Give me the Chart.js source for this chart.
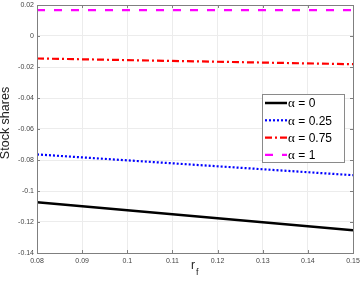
<!DOCTYPE html>
<html>
<head>
<meta charset="utf-8">
<script src="https://cdn.jsdelivr.net/npm/chart.js@4.4.1/dist/chart.umd.min.js"></script>
<style>
  html, body { margin: 0; padding: 0; background: #fff; }
  #wrap { width: 360px; height: 287px; position: relative; }
</style>
</head>
<body>
<div id="wrap"><canvas id="c" width="360" height="287"></canvas></div>
<script>
// --- DATA ---
const rf = [0.08, 0.15];
const alpha0 = [-0.1072, -0.1253];
const alpha025 = [-0.0764, -0.0898];
const alpha075 = [-0.0145, -0.0182];
const alpha1 = [0.0167, 0.0167];
const legendLabels = ['0', '0.25', '0.75', '1'];
const xTicks = [0.08, 0.09, 0.1, 0.11, 0.12, 0.13, 0.14, 0.15];
const yTicks = [-0.14, -0.12, -0.1, -0.08, -0.06, -0.04, -0.02, 0, 0.02];

const pts = vals => vals.map((v, i) => ({ x: rf[i], y: v }));
const fmt = v => String(Number(v.toFixed(2)));
const tickFont = { family: 'Liberation Sans', size: 7 };

// axes box, inward ticks, legend and axis titles
const decor = {
    id: 'decor',
    afterDraw(chart) {
        const c = chart.ctx;
        const a = chart.chartArea;
        const xs = chart.scales.x, ys = chart.scales.y;
        c.save();
        c.strokeStyle = '#7f7f7f';
        c.lineWidth = 1;
        c.strokeRect(a.left + 0.5, a.top + 0.5, a.right - a.left, a.bottom - a.top);
        c.beginPath();
        xTicks.forEach(t => {
            const px = Math.round(xs.getPixelForValue(t)) + 0.5;
            c.moveTo(px, a.bottom); c.lineTo(px, a.bottom - 3);
            c.moveTo(px, a.top); c.lineTo(px, a.top + 3);
        });
        yTicks.forEach(t => {
            const py = Math.round(ys.getPixelForValue(t)) + 0.5;
            c.moveTo(a.left, py); c.lineTo(a.left + 3, py);
            c.moveTo(a.right, py); c.lineTo(a.right - 3, py);
        });
        c.stroke();

        // y title
        c.fillStyle = '#222';
        c.font = '12.5px "Liberation Sans"';
        c.textAlign = 'center';
        c.textBaseline = 'middle';
        c.translate(6, 123);
        c.rotate(-Math.PI / 2);
        c.fillText('Stock shares', 0, 0);
        c.setTransform(1, 0, 0, 1, 0, 0);

        // x title r_f
        c.textAlign = 'left';
        c.textBaseline = 'alphabetic';
        c.font = '12px "Liberation Sans"';
        c.fillText('r', 191, 269);
        c.font = '9px "Liberation Sans"';
        c.fillText('f', 196, 275);

        // legend
        const lx = 262, ly = 94, lw = 82, lh = 68;
        c.fillStyle = '#fff';
        c.fillRect(lx, ly, lw, lh);
        c.strokeStyle = '#8a8a8a';
        c.strokeRect(lx + 0.5, ly + 0.5, lw, lh);
        chart.data.datasets.forEach((ds, i) => {
            const y = 103 + i * 17.3;
            c.strokeStyle = ds.borderColor;
            c.lineWidth = ds.borderWidth;
            c.setLineDash(ds.borderDash || []);
            c.beginPath();
            c.moveTo(265, y); c.lineTo(287, y);
            c.stroke();
            c.setLineDash([]);
            c.fillStyle = '#000';
            c.font = '13px "Liberation Serif"';
            c.textBaseline = 'middle';
            c.fillText('\u03b1', 288, y + 1);
            c.font = '12px "Liberation Sans"';
            c.fillText(' = ' + legendLabels[i], 295, y + 1);
        });
        c.restore();
    }
};

new Chart(document.getElementById('c'), {
    type: 'line',
    data: {
        datasets: [
            { data: pts(alpha0), borderColor: '#000000', borderWidth: 2.5 },
            { data: pts(alpha025), borderColor: '#0000ff', borderWidth: 2.2, borderDash: [2, 2] },
            { data: pts(alpha075), borderColor: '#ff0000', borderWidth: 2.2, borderDash: [7, 3, 2, 3] },
            { data: pts(alpha1), borderColor: '#ff00ff', borderWidth: 2.2, borderDash: [8, 9] }
        ]
    },
    options: {
        responsive: false,
        animation: false,
        events: [],
        elements: { point: { radius: 0 }, line: { tension: 0, borderCapStyle: 'butt' } },
        layout: { padding: { left: 0, right: 7, top: 5, bottom: 0 } },
        plugins: { legend: { display: false }, tooltip: { enabled: false } },
        scales: {
            x: {
                type: 'linear', min: 0.08, max: 0.15,
                afterBuildTicks: s => { s.ticks = xTicks.map(v => ({ value: v })); },
                afterFit: s => { s.height = 34; s.paddingLeft = 0; s.paddingRight = 0; },
                grid: { color: '#ececec', drawTicks: false },
                border: { display: false },
                ticks: { font: tickFont, color: '#444', padding: 4, maxRotation: 0, callback: fmt }
            },
            y: {
                min: -0.14, max: 0.02,
                afterBuildTicks: s => { s.ticks = yTicks.map(v => ({ value: v })); },
                afterFit: s => { s.width = 37; s.paddingTop = 0; s.paddingBottom = 0; },
                grid: { color: '#ececec', drawTicks: false },
                border: { display: false },
                ticks: { font: tickFont, color: '#444', padding: 3, callback: fmt }
            }
        }
    },
    plugins: [decor]
});
</script>
</body>
</html>
